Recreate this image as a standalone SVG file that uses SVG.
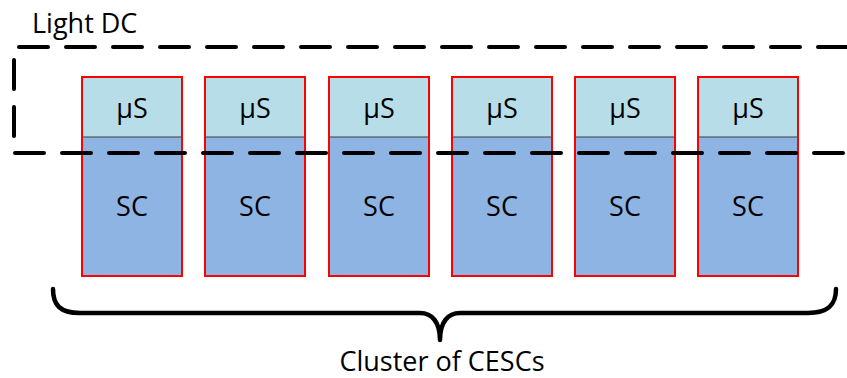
<svg xmlns="http://www.w3.org/2000/svg" width="847" height="378" viewBox="0 0 847 378">
  <style>
    .lbl { font-family: "Open Sans", "Liberation Sans", sans-serif; font-size: 27px; fill: #000; text-anchor: middle; }
    .top { fill: #B7DDE8; }
    .bot { fill: #8EB4E3; }
    .frame { fill: none; stroke: #FF0000; stroke-width: 2; }
    .split { stroke: #3F3F3F; stroke-width: 1.2; }
  </style>
  <defs>
    <g id="cell">
      <rect class="top" x="0" y="0" width="100" height="60"/>
      <rect class="bot" x="0" y="60" width="100" height="139"/>
      <line class="split" x1="0" y1="60" x2="100" y2="60"/>
      <rect class="frame" x="0" y="0" width="100" height="199"/>
      <text class="lbl" x="50" y="41">μS</text>
      <text class="lbl" x="50" y="139">SC</text>
    </g>
  </defs>

  <text x="32" y="33" style="font-family: 'Open Sans','Liberation Sans',sans-serif; font-size: 27px;">Light DC</text>

  <g id="cesc1"><use href="#cell" x="82" y="77"/></g>
  <g id="cesc2"><use href="#cell" x="205" y="77"/></g>
  <g id="cesc3"><use href="#cell" x="329" y="77"/></g>
  <g id="cesc4"><use href="#cell" x="452" y="77"/></g>
  <g id="cesc5"><use href="#cell" x="575" y="77"/></g>
  <g id="cesc6"><use href="#cell" x="698" y="77"/></g>

  <g id="connectors">
    <!-- light DC boundary -->
    <path d="M 847 47 H 14 V 153 H 847" fill="none" stroke="#000" stroke-width="4" stroke-dasharray="29 18" stroke-linecap="round"/>
    <!-- cluster brace -->
    <path d="M 53 289 C 53 305 60 313 80 313 H 420 C 432 313 440 322 440 340 C 440 322 448 313 460 313 H 808 C 828 313 836 305 836 289" fill="none" stroke="#000" stroke-width="4.5" stroke-linecap="round" stroke-linejoin="round"/>
  </g>

  <text class="lbl" x="442" y="371">Cluster of CESCs</text>
</svg>
